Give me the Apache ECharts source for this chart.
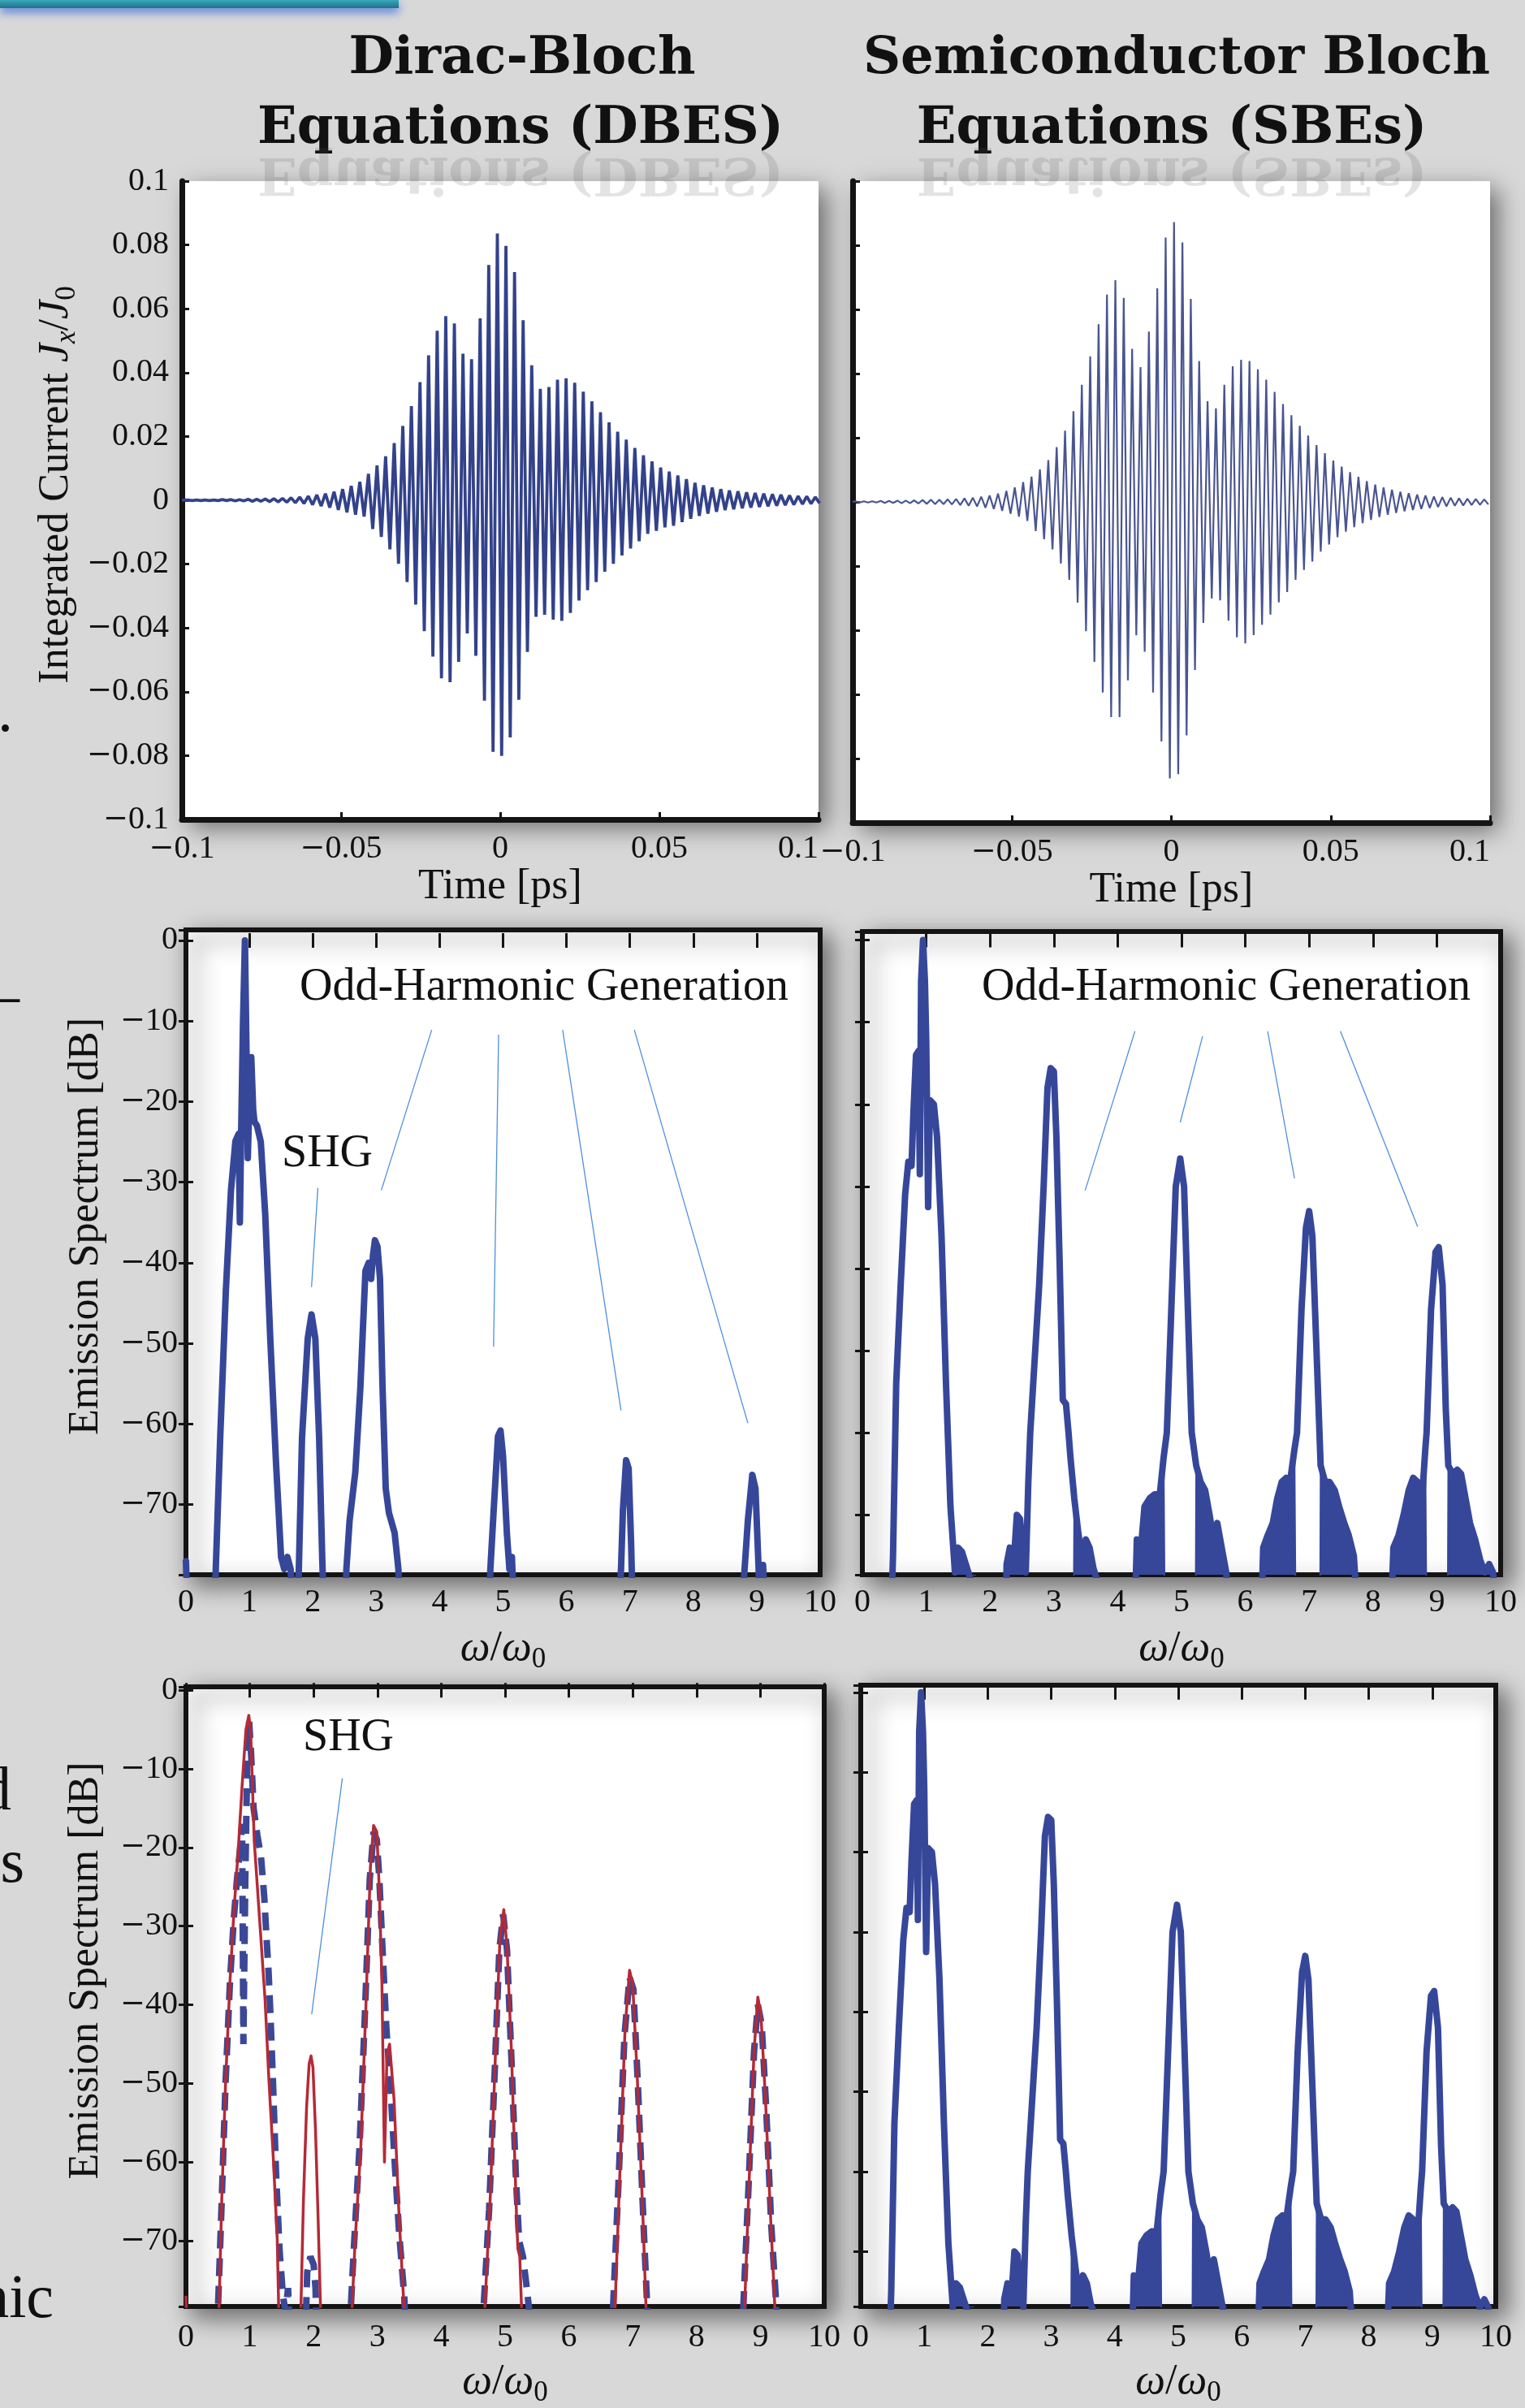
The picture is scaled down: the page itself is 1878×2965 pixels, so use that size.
<!DOCTYPE html>
<html>
<head>
<meta charset="utf-8">
<title>DBES vs SBEs</title>
<script src="https://cdn.jsdelivr.net/npm/echarts@6/dist/echarts.min.js"></script>
<style>
  html, body { margin: 0; padding: 0; background: #d8d8d8; }
  #chart { width: 1878px; height: 2965px; }
</style>
</head>
<body>
<div id="chart"></div>
<script>
// ---- data ----

// integrated current: one maximum and one minimum per optical cycle (ps grid)
const dbesFirstPeak = -0.0981;
const dbesPeriod = 0.0027;
const dbesUpper = [
  0.0001, 0.0001, 0.0001, 0.0001, 0.0002, 0.0002, 0.0002, 0.0003, 0.0003, 0.0004,
  0.0005, 0.0006, 0.0008, 0.0010, 0.0013, 0.0017, 0.0021, 0.0027, 0.0035, 0.0045,
  0.0058, 0.0083, 0.0109, 0.0138, 0.0179, 0.0233, 0.0295, 0.0370, 0.0454, 0.0531,
  0.0577, 0.0554, 0.0459, 0.0442, 0.0570, 0.0737, 0.0836, 0.0797, 0.0715, 0.0564,
  0.0423, 0.0349, 0.0355, 0.0378, 0.0382, 0.0368, 0.0340, 0.0310, 0.0276, 0.0244,
  0.0215, 0.0190, 0.0164, 0.0141, 0.0122, 0.0103,
  0.0090, 0.0078, 0.0066, 0.0055, 0.0047, 0.0040, 0.0035, 0.0031, 0.0028, 0.0025,
  0.0023, 0.0021, 0.0019, 0.0017, 0.0015, 0.0013, 0.0012, 0.0010
];
const dbesLower = [
  -0.0001, -0.0001, -0.0001, -0.0001, -0.0001, -0.0002, -0.0002, -0.0003, -0.0003, -0.0004,
  -0.0005, -0.0006, -0.0008, -0.0010, -0.0014, -0.0018, -0.0023, -0.0030, -0.0038, -0.0045,
  -0.0051, -0.0090, -0.0115, -0.0154, -0.0199, -0.0256, -0.0327, -0.0410, -0.0490, -0.0558,
  -0.0570, -0.0506, -0.0417, -0.0487, -0.0628, -0.0788, -0.0801, -0.0743, -0.0625, -0.0475,
  -0.0365, -0.0359, -0.0374, -0.0378, -0.0353, -0.0314, -0.0282, -0.0256, -0.0224, -0.0199,
  -0.0173, -0.0151, -0.0128, -0.0105, -0.0096, -0.0085,
  -0.0080, -0.0068, -0.0058, -0.0049, -0.0042, -0.0036, -0.0031, -0.0028, -0.0025, -0.0023,
  -0.0021, -0.0019, -0.0017, -0.0015, -0.0014, -0.0012, -0.0011, -0.0009
];

const sbeFirstPeak = -0.0991;
const sbePeriod = 0.00263;
const sbeUpper = [
  0.0002, 0.0002, 0.0002, 0.0003, 0.0003, 0.0004, 0.0004, 0.0005, 0.0006, 0.0007,
  0.0007, 0.0008, 0.0009, 0.0011, 0.0013, 0.0016, 0.0020, 0.0026, 0.0034, 0.0045,
  0.0062, 0.0079, 0.0101, 0.0130, 0.0171, 0.0222, 0.0283, 0.0365, 0.0454, 0.0554,
  0.0646, 0.0691, 0.0636, 0.0477, 0.0420, 0.0531, 0.0666, 0.0824, 0.0872, 0.0809,
  0.0633, 0.0439, 0.0314, 0.0292, 0.0365, 0.0423, 0.0443, 0.0439, 0.0413, 0.0381,
  0.0343, 0.0305, 0.0270, 0.0237, 0.0207, 0.0177, 0.0152, 0.0129,
  0.0110, 0.0093, 0.0078, 0.0065, 0.0054, 0.0045, 0.0038, 0.0032, 0.0027, 0.0023,
  0.0020, 0.0017, 0.0015, 0.0013, 0.0011, 0.0010, 0.0009, 0.0008
];
const sbeLower = [
  -0.0002, -0.0002, -0.0002, -0.0003, -0.0003, -0.0004, -0.0004, -0.0005, -0.0006, -0.0007,
  -0.0007, -0.0008, -0.0010, -0.0012, -0.0014, -0.0018, -0.0022, -0.0028, -0.0037,
  -0.0046, -0.0059, -0.0091, -0.0116, -0.0148, -0.0192, -0.0243, -0.0314, -0.0403, -0.0499,
  -0.0594, -0.0671, -0.0671, -0.0556, -0.0416, -0.0467, -0.0594, -0.0747, -0.0862, -0.0849,
  -0.0728, -0.0524, -0.0377, -0.0301, -0.0307, -0.0370, -0.0422, -0.0441, -0.0415, -0.0383,
  -0.0351, -0.0313, -0.0281, -0.0243, -0.0212, -0.0186, -0.0155, -0.0133, -0.0110,
  -0.0093, -0.0079, -0.0066, -0.0056, -0.0047, -0.0040, -0.0034, -0.0029, -0.0025, -0.0022,
  -0.0019, -0.0016, -0.0014, -0.0012, -0.0011, -0.0010, -0.0009, -0.0008
];

// emission spectra [omega/omega0, dB]; -85 = below the plot floor
const dbesSpectrum = [
  [0, -77], [0.03, -85],
  [0.45, -85], [0.47, -78], [0.54, -61.7], [0.63, -43.3], [0.71, -31], [0.78, -24.9], [0.83, -24],
  [0.85, -35], [0.87, -24], [0.9, -10], [0.93, 0], [0.955, -14], [0.975, -27], [1.0, -20], [1.03, -14.5],
  [1.06, -21], [1.08, -22.5], [1.12, -23], [1.18, -25], [1.25, -34], [1.33, -49.5], [1.42, -64.8],
  [1.5, -76.5], [1.55, -78], [1.6, -76.5], [1.65, -78], [1.7, -85],
  [1.75, -85], [1.78, -78], [1.83, -61.7], [1.92, -49.4], [1.98, -46.4], [2.04, -49.4], [2.1, -61.7], [2.15, -77], [2.18, -85],
  [2.5, -85], [2.53, -78], [2.58, -72], [2.67, -66], [2.75, -55.5], [2.83, -41], [2.88, -40], [2.92, -42],
  [2.95, -39], [2.98, -37.2], [3.02, -38], [3.06, -42], [3.1, -55.5], [3.15, -68], [3.2, -71], [3.29, -73.5], [3.35, -78], [3.38, -85],
  [4.77, -85], [4.8, -78], [4.85, -71], [4.92, -61.5], [4.96, -60.8], [5.0, -64], [5.06, -73.5], [5.1, -78], [5.14, -76.5], [5.18, -85],
  [6.82, -85], [6.86, -78], [6.89, -70.7], [6.94, -64.5], [6.98, -65.5], [7.02, -75], [7.05, -85],
  [8.76, -85], [8.8, -79], [8.86, -72], [8.93, -66.3], [8.98, -68], [9.03, -78], [9.05, -85], [9.08, -85], [9.1, -77.5], [9.14, -85]
];

const sbeSpectrum = [
  [0.44, -85], [0.48, -75], [0.53, -54], [0.6, -42], [0.67, -31], [0.72, -27], [0.77, -27.5], [0.8, -21],
  [0.84, -14], [0.88, -13.5], [0.9, -28.5], [0.92, -5], [0.95, 0], [0.98, -5], [1.0, -12], [1.03, -32.5],
  [1.06, -19.5], [1.12, -20], [1.17, -24], [1.24, -36], [1.31, -54], [1.38, -69], [1.45, -77], [1.5, -74],
  [1.56, -74.5], [1.62, -76], [1.68, -77.5], [1.75, -79], [1.78, -85],
  [2.24, -85], [2.26, -76], [2.31, -74], [2.37, -76], [2.42, -70], [2.47, -70.5], [2.52, -75], [2.56, -77],
  [2.6, -66], [2.63, -60], [2.7, -51], [2.77, -42], [2.84, -30], [2.9, -18], [2.95, -15.6], [3.0, -16],
  [3.04, -24], [3.09, -39], [3.14, -56], [3.19, -56.5], [3.23, -60], [3.26, -63], [3.32, -68], [3.38, -72],
  [3.45, -76], [3.5, -73], [3.56, -74], [3.62, -76.5], [3.68, -78], [3.7, -85],
  [4.26, -85], [4.3, -73], [4.36, -74.5], [4.42, -69], [4.5, -68], [4.58, -67.5], [4.66, -67.5], [4.72, -63],
  [4.77, -60], [4.84, -45], [4.91, -30], [4.98, -26.6], [5.04, -30], [5.1, -45], [5.16, -60], [5.23, -64],
  [5.3, -66], [5.37, -67], [5.44, -70], [5.5, -73], [5.56, -71], [5.63, -74], [5.7, -77], [5.76, -85],
  [6.24, -85], [6.28, -74], [6.35, -72.5], [6.43, -71], [6.5, -68], [6.57, -66], [6.64, -65.5], [6.7, -66],
  [6.77, -62], [6.81, -60], [6.88, -45], [6.95, -35], [7.0, -33], [7.05, -36], [7.12, -51], [7.18, -64],
  [7.25, -66], [7.32, -66], [7.4, -67], [7.47, -69], [7.55, -71], [7.62, -72.5], [7.7, -75], [7.78, -85],
  [8.27, -85], [8.32, -74], [8.4, -72.5], [8.48, -70], [8.56, -67], [8.63, -65.5], [8.7, -66], [8.76, -69],
  [8.82, -62], [8.84, -60], [8.91, -45], [8.98, -38], [9.03, -37.4], [9.09, -42], [9.14, -57], [9.18, -64],
  [9.25, -65], [9.32, -64.5], [9.38, -65], [9.45, -68], [9.52, -71], [9.6, -73], [9.68, -75.5], [9.75, -77],
  [9.82, -76], [9.88, -77], [9.94, -85]
];

// solid (filled) side-band clusters around each SBE harmonic
const sbeSidebands = [
  [[1.43, -85], [1.45, -77], [1.5, -74], [1.56, -74.5], [1.62, -76], [1.68, -77.5], [1.75, -79], [1.78, -85]],
  [[2.24, -85], [2.26, -76], [2.31, -74], [2.37, -76], [2.42, -70], [2.47, -70.5], [2.52, -75], [2.56, -77], [2.58, -85]],
  [[3.31, -85], [3.32, -68], [3.38, -72], [3.45, -76], [3.5, -73], [3.56, -74], [3.62, -76.5], [3.68, -78], [3.7, -85]],
  [[4.26, -85], [4.3, -73], [4.36, -74.5], [4.42, -69], [4.5, -68], [4.58, -67.5], [4.66, -67.5], [4.72, -63], [4.74, -85]],
  [[5.22, -85], [5.23, -64], [5.3, -66], [5.37, -67], [5.44, -70], [5.5, -73], [5.56, -71], [5.63, -74], [5.7, -77], [5.76, -85]],
  [[6.24, -85], [6.28, -74], [6.35, -72.5], [6.43, -71], [6.5, -68], [6.57, -66], [6.64, -65.5], [6.7, -66], [6.77, -62], [6.79, -85]],
  [[7.17, -85], [7.18, -64], [7.25, -66], [7.32, -66], [7.4, -67], [7.47, -69], [7.55, -71], [7.62, -72.5], [7.7, -75], [7.78, -85]],
  [[8.27, -85], [8.32, -74], [8.4, -72.5], [8.48, -70], [8.56, -67], [8.63, -65.5], [8.7, -66], [8.76, -69], [8.82, -62], [8.84, -85]],
  [[9.17, -85], [9.18, -64], [9.25, -65], [9.32, -64.5], [9.38, -65], [9.45, -68], [9.52, -71], [9.6, -73],
   [9.68, -75.5], [9.75, -77], [9.82, -76], [9.88, -77], [9.94, -85]]
];

// lower-left panel: solid red and dashed blue spectra
const mixedSolid = [
  [0, -77], [0.03, -85],
  [0.47, -85], [0.52, -78], [0.56, -65], [0.62, -50], [0.69, -37], [0.75, -28.3], [0.82, -20.2], [0.88, -12.1],
  [0.94, -5], [0.985, -3.2], [1.015, -5.4], [1.07, -19.2], [1.155, -29.3], [1.24, -39.4], [1.3, -49.6],
  [1.37, -59.7], [1.43, -69.8], [1.47, -85],
  [1.78, -85], [1.8, -79], [1.84, -65], [1.89, -53], [1.93, -47.5], [1.96, -46.5], [1.99, -48], [2.03, -56],
  [2.07, -67], [2.11, -79], [2.13, -85],
  [2.58, -85], [2.6, -79], [2.65, -70], [2.74, -58], [2.82, -40], [2.89, -22.5], [2.94, -17.2], [2.99, -18],
  [3.03, -25.5], [3.07, -37], [3.11, -60], [3.15, -46.3], [3.19, -45], [3.26, -52], [3.34, -67], [3.42, -79], [3.44, -85],
  [4.66, -85], [4.68, -79], [4.77, -64], [4.85, -46], [4.92, -31.5], [4.98, -27.9], [5.03, -32.6], [5.1, -46],
  [5.18, -67], [5.2, -71], [5.23, -72], [5.26, -79], [5.28, -85],
  [6.7, -85], [6.72, -79], [6.8, -61], [6.88, -43], [6.95, -35.6], [7.0, -37.4], [7.07, -49], [7.16, -67], [7.21, -79], [7.23, -85],
  [8.73, -85], [8.75, -79], [8.83, -61], [8.9, -46], [8.96, -39], [9.01, -41.5], [9.08, -52], [9.16, -67], [9.23, -79], [9.25, -85]
];
const mixedDashed = [
  [0.45, -85], [0.5, -79], [0.56, -65], [0.62, -50], [0.69, -37], [0.75, -29], [0.8, -24], [0.85, -20],
  [0.88, -17], [0.9, -45], [0.93, -24], [0.96, -9], [0.99, -4], [1.02, -8], [1.06, -15], [1.12, -18.5],
  [1.176, -21.2], [1.227, -26.3], [1.261, -31.3], [1.295, -35.9], [1.325, -41.5], [1.367, -50.6], [1.41, -61],
  [1.465, -71], [1.52, -77], [1.56, -79], [1.6, -76], [1.64, -85],
  [1.86, -85], [1.9, -74], [1.95, -72], [2.0, -73], [2.03, -76], [2.06, -85],
  [2.56, -85], [2.58, -79], [2.63, -71], [2.72, -58], [2.8, -42], [2.88, -24], [2.94, -18], [2.99, -19],
  [3.03, -24], [3.08, -33], [3.14, -43], [3.2, -50], [3.27, -60], [3.34, -69], [3.42, -77], [3.46, -85],
  [4.64, -85], [4.66, -79], [4.75, -66], [4.84, -48], [4.91, -33], [4.97, -28.5], [5.03, -33], [5.1, -47],
  [5.17, -62], [5.22, -70], [5.28, -72], [5.34, -76], [5.38, -79], [5.4, -85],
  [6.66, -85], [6.7, -77], [6.78, -62], [6.87, -44], [6.95, -36.5], [7.01, -38], [7.08, -50], [7.17, -68], [7.23, -79], [7.25, -85],
  [8.7, -85], [8.74, -77], [8.82, -62], [8.9, -46], [8.96, -40], [9.02, -42.5], [9.09, -53], [9.17, -68], [9.24, -77], [9.28, -85]
];

// annotation pointer lines (data coords)
const shgLineDbes = [[2.08, -30.7], [1.98, -43.0]];
const ohgLinesDbes = [
  [[3.875, -11.1], [3.08, -31.0]],
  [[4.93, -11.7], [4.85, -50.4]],
  [[5.94, -11.1], [6.86, -58.3]],
  [[7.07, -11.1], [8.86, -59.9]]
];
const ohgLinesSbe = [
  [[4.27, -11.1], [3.49, -30.5]],
  [[5.33, -11.7], [4.98, -22.2]],
  [[6.35, -11.1], [6.77, -29.0]],
  [[7.49, -11.1], [8.70, -34.9]]
];
const shgLineMixed = [[2.45, -11.2], [1.97, -41.2]];

// ---- chart ----
const SERIF = '"Liberation Serif", "Times New Roman", serif';
const INK = '#141414';
const BLUE = '#36479a';

// negative numbers get a wide minus sign, drawn through the rich style "m"
const signed = n => (n < 0 ? '{m|\u2212}' + Math.abs(n) : String(Math.abs(n)));
const fmtNum = v => signed(parseFloat(Number(v).toFixed(3)));
// dB axis: only the multiples of ten get a label
const fmtDb = v => {
  const n = Math.round(Number(v) * 100) / 100;
  if (Math.abs(n % 10) > 0.01) return '';
  return signed(n);
};

const tickFont = {
  fontFamily: SERIF, fontSize: 40, color: '#111',
  rich: { m: { fontFamily: '"DejaVu Serif", serif', fontSize: 37, color: '#111' } }
};
const RICH = {
  n: { fontFamily: SERIF, fontSize: 52, color: '#111', lineHeight: 62 },
  i: { fontFamily: SERIF, fontSize: 52, fontStyle: 'italic', color: '#111', lineHeight: 62 },
  s: { fontFamily: SERIF, fontSize: 35, color: '#111', verticalAlign: 'bottom', lineHeight: 35 },
  si: { fontFamily: SERIF, fontSize: 35, fontStyle: 'italic', color: '#111', verticalAlign: 'bottom', lineHeight: 35 }
};
const nameStyle = { fontFamily: SERIF, fontSize: 52, color: '#111', rich: RICH };
const tickIn = { show: true, inside: true, length: 9, lineStyle: { color: INK, width: 3 } };
const shadow = { shadowColor: 'rgba(0,0,0,0.5)', shadowBlur: 28, shadowOffsetX: 10, shadowOffsetY: 10 };

function zigzag(t0, period, upper, lower) {
  const pts = [[-0.1, 0]];
  upper.forEach((u, k) => {
    pts.push([t0 + k * period, u]);
    pts.push([t0 + (k + 0.5) * period, lower[k]]);
  });
  return pts;
}

const timeGrid = (left, top, width, height) =>
  ({ left, top, width, height, show: true, backgroundColor: '#fff', borderWidth: 0, ...shadow });
const specGrid = (left, top, width, height) =>
  ({ left, top, width, height, show: true, backgroundColor: '#fff', borderColor: INK, borderWidth: 6, ...shadow });

function timeX(gi) {
  return {
    gridIndex: gi, type: 'value', min: -0.1, max: 0.1, interval: 0.05,
    name: '{n|Time [ps]}', nameLocation: 'middle', nameGap: 48, nameTextStyle: nameStyle,
    axisLine: { show: true, onZero: false, lineStyle: { color: INK, width: 7 } },
    axisTick: tickIn,
    axisLabel: { ...tickFont, margin: 16, formatter: fmtNum, alignMaxLabel: 'right' },
    splitLine: { show: false }
  };
}
function timeY(gi, labels) {
  return {
    gridIndex: gi, type: 'value', min: -0.1, max: 0.1, interval: 0.02,
    name: labels ? '{n|Integrated Current }{i|J}{si|x}{n|/}{i|J}{s|0}' : '',
    nameLocation: 'middle', nameRotate: 90, nameGap: 124,
    nameTextStyle: { ...nameStyle, padding: [0, 0, 0, 38] },
    axisLine: { show: true, onZero: false, lineStyle: { color: INK, width: 7 } },
    axisTick: tickIn,
    axisLabel: { show: labels, ...tickFont, margin: 16, formatter: fmtNum },
    splitLine: { show: false }
  };
}
function specX(gi, gap, margin) {
  return [
    {
      gridIndex: gi, type: 'value', min: 0, max: 10, interval: 1,
      name: '{i|\u03c9}{n|/}{i|\u03c9}{s|0}', nameLocation: 'middle', nameGap: gap, nameTextStyle: nameStyle,
      axisLine: { show: false }, axisTick: tickIn,
      axisLabel: { ...tickFont, margin: margin }, splitLine: { show: false }
    },
    {
      gridIndex: gi, type: 'value', position: 'top', min: 0, max: 10, interval: 1,
      axisLine: { show: false }, axisTick: tickIn, axisLabel: { show: false }, splitLine: { show: false }
    }
  ];
}
function specY(gi, min, max, labels) {
  return [
    {
      gridIndex: gi, type: 'value', min, max, splitNumber: 8,
      name: labels ? '{n|Emission Spectrum [dB]}' : '',
      nameLocation: 'middle', nameRotate: 90, nameGap: 92,
      nameTextStyle: { ...nameStyle, padding: [0, 0, 0, 64] },
      axisLine: { show: false },
      axisTick: tickIn,
      axisLabel: { show: labels, ...tickFont, margin: 10, formatter: fmtDb, showMinLabel: false, showMaxLabel: false },
      splitLine: { show: false }
    },
    {
      gridIndex: gi, type: 'value', position: 'right', min, max, splitNumber: 8,
      axisLine: { show: false }, axisTick: tickIn,
      axisLabel: { show: false }, splitLine: { show: false }
    }
  ];
}

const annot = pairs => ({
  silent: true, symbol: ['none', 'none'], animation: false,
  label: { show: false }, emphasis: { disabled: true },
  lineStyle: { color: '#4f8fdf', width: 1.3, type: 'solid' },
  data: pairs.map(([a, b]) => [{ coord: a }, { coord: b }])
});

const lineBase = { type: 'line', showSymbol: false, symbol: 'none', silent: true, clip: true, animation: false };
const thick = { color: BLUE, width: 8, join: 'round', cap: 'round' };

function sidebandSeries(xi, yi) {
  return sbeSidebands.map(r => ({
    ...lineBase, xAxisIndex: xi, yAxisIndex: yi, data: r,
    lineStyle: { color: BLUE, width: 2 },
    areaStyle: { color: BLUE, opacity: 1, origin: 'start' }
  }));
}

const txt = (text, x, y, size, extra) => ({
  type: 'text', x, y, z: 100, silent: true,
  style: { text, fontFamily: SERIF, fontSize: size, fill: '#111', align: 'center', verticalAlign: 'middle', ...(extra || {}) }
});
const title = (text, x, y) => ({
  type: 'text', x, y, z: 100, silent: true,
  style: { text, fontFamily: '"DejaVu Serif", serif', fontWeight: 'bold', fontSize: 64, fill: '#111', align: 'center', verticalAlign: 'middle' }
});
const mirror = (text, x, y) => ({
  type: 'text', x, y, scaleY: -1, z: 100, silent: true,
  style: { text, fontFamily: '"DejaVu Serif", serif', fontWeight: 'bold', fontSize: 64, fill: 'rgba(80,80,80,0.16)', align: 'center', verticalAlign: 'bottom' }
});

const chart = echarts.init(document.getElementById('chart'));

chart.setOption({
  backgroundColor: '#d8d8d8',
  animation: false,
  grid: [
    timeGrid(224, 223, 784, 786),
    timeGrid(1050, 223, 785, 790),
    specGrid(229, 1145, 781, 794),
    specGrid(1062, 1147, 786, 792),
    specGrid(229, 2077, 786, 780),
    specGrid(1060, 2075, 782, 782)
  ],
  xAxis: [
    timeX(0), timeX(1),
    ...specX(2, 60, 14), ...specX(3, 60, 14),
    ...specX(4, 62, 18), ...specX(5, 62, 18)
  ],
  yAxis: [
    timeY(0, true), timeY(1, false),
    ...specY(2, -78.7, 1.3, true), ...specY(3, -77.3, 1.05, false),
    ...specY(4, -78.35, 0.43, true), ...specY(5, -76.9, 0.9, false)
  ],
  series: [
    { ...lineBase, xAxisIndex: 0, yAxisIndex: 0, data: zigzag(dbesFirstPeak, dbesPeriod, dbesUpper, dbesLower),
      lineStyle: { color: '#33428a', width: 3.8 } },
    { ...lineBase, xAxisIndex: 1, yAxisIndex: 1, data: zigzag(sbeFirstPeak, sbePeriod, sbeUpper, sbeLower),
      lineStyle: { color: '#4a5590', width: 2.2 } },
    { ...lineBase, xAxisIndex: 2, yAxisIndex: 2, data: dbesSpectrum, lineStyle: thick,
      markLine: annot([shgLineDbes, ...ohgLinesDbes]) },
    ...sidebandSeries(4, 4),
    { ...lineBase, xAxisIndex: 4, yAxisIndex: 4, data: sbeSpectrum, lineStyle: thick,
      markLine: annot(ohgLinesSbe) },
    { ...lineBase, xAxisIndex: 6, yAxisIndex: 6, data: mixedDashed,
      lineStyle: { color: '#3a4896', width: 8, type: [22, 12] } },
    { ...lineBase, xAxisIndex: 6, yAxisIndex: 6, data: mixedSolid,
      lineStyle: { color: '#b42a36', width: 3.5, join: 'round' },
      markLine: annot([shgLineMixed]) },
    ...sidebandSeries(8, 8),
    { ...lineBase, xAxisIndex: 8, yAxisIndex: 8, data: sbeSpectrum, lineStyle: thick }
  ],
  graphic: [
    { type: 'rect', z: 100, silent: true, shape: { x: 0, y: 0, width: 491, height: 10 },
      style: { fill: new echarts.graphic.LinearGradient(0, 0, 0, 1, [{ offset: 0, color: '#3aa7ba' }, { offset: 1, color: '#1f7088' }]),
        shadowBlur: 12, shadowColor: 'rgba(60,110,220,0.9)', shadowOffsetY: 5 } },
    title('Dirac-Bloch', 643, 73),
    title('Equations (DBES)', 641, 159),
    title('Semiconductor Bloch', 1449, 73),
    title('Equations (SBEs)', 1443, 159),
    mirror('Equations (DBES)', 641, 180),
    mirror('Equations (SBEs)', 1443, 180),
    txt('Odd-Harmonic Generation', 670, 1216, 56),
    txt('SHG', 403, 1421, 56),
    txt('Odd-Harmonic Generation', 1510, 1216, 56),
    txt('SHG', 429, 2140, 56),
    // cut-off slide text along the left edge
    txt('.', 16, 880, 76, { align: 'right' }),
    txt('\u2013', 24, 1230, 76, { align: 'right' }),
    txt('d', 14, 2246, 76, { align: 'right', verticalAlign: 'bottom' }),
    txt('s', 30, 2335, 76, { align: 'right', verticalAlign: 'bottom' }),
    txt('nic', 66, 2871, 76, { align: 'right', verticalAlign: 'bottom' })
  ]
});

window.addEventListener('resize', () => chart.resize());
</script>
</body>
</html>
